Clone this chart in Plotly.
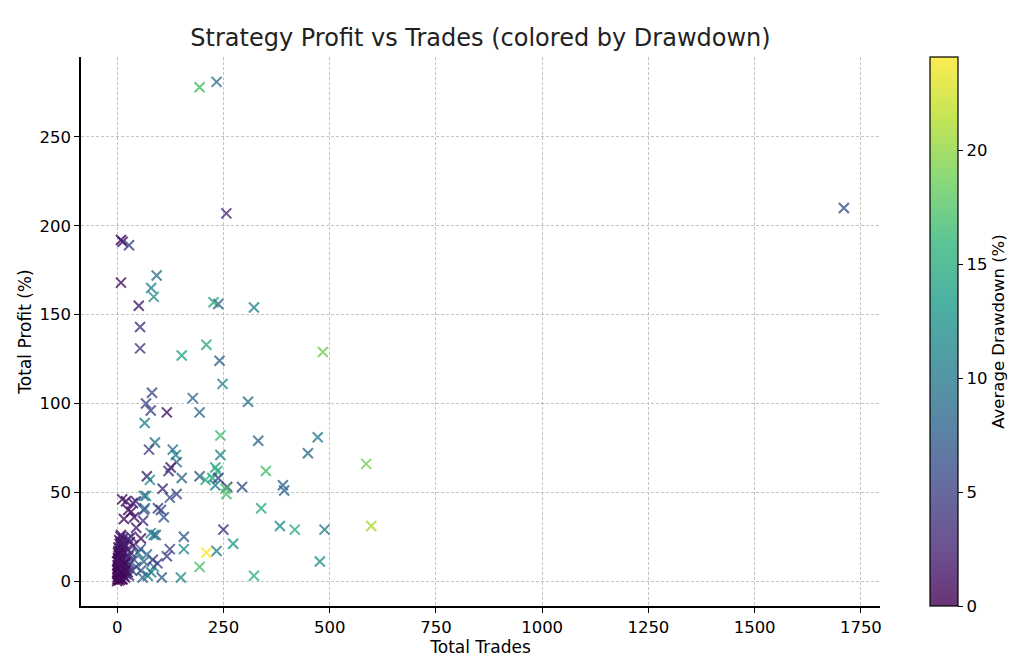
import plotly.graph_objects as go

# (trades, profit %, avg drawdown %)
total_trades = [
    194, 234, 257, 9, 13, 28, 9, 93, 80, 86, 51, 227, 238, 322, 54, 54, 210, 152,
    484, 241, 248, 82, 68, 79, 117, 178, 194, 308, 65, 243, 89, 332, 472, 75, 131,
    138, 243, 449, 140, 126, 121, 231, 236, 350, 586, 70, 77, 152, 194, 208, 224,
    231, 238, 259, 294, 255, 257, 107, 140, 124, 390, 393, 339, 383, 418, 488, 598,
    250, 273, 210, 234, 194, 322, 477, 1710, 157, 157, 124, 117, 150, 105, 86, 68,
    65, 96, 110, 12, 21, 37, 44, 63, 26, 33, 40, 16, 63, 103, 61, 9, 79, 91, 56, 33,
    86, 63, 84, 49, 40, 72, 56, 21, 30, 38, 45, 60, 55, 70, 80, 95, 45,
    0, 1, 2, 3, 4, 5, 6, 7, 8, 9, 10, 11, 12, 13, 14, 15, 16, 17, 18, 19, 20, 22,
    24, 25, 3, 6, 8, 2, 4, 1, 11, 14, 19, 21, 23, 5, 9, 12, 15, 0, 0, 27, 28, 30,
    32, 35, 26,
    1, 3, 5, 7, 9, 11, 13, 15, 17, 2, 4, 6, 8, 10, 12, 14, 16, 18, 20, 1, 3, 5, 7,
    9, 11, 13, 2, 6, 10, 14,
]
total_profit = [
    278, 281, 207, 192, 191, 189, 168, 172, 165, 160, 155, 157, 156, 154, 143, 131,
    133, 127, 129, 124, 111, 106, 100, 96, 95, 103, 95, 101, 89, 82, 78, 79, 81, 74,
    74, 71, 71, 72, 67, 64, 62, 64, 62, 62, 66, 59, 57, 58, 59, 57, 58, 54, 58, 53,
    53, 52, 49, 52, 49, 47, 54, 51, 41, 31, 29, 29, 31, 29, 21, 16, 17, 8, 3, 11,
    210, 25, 18, 18, 14, 2, 2, 26, 48, 41, 41, 36, 46, 45, 44, 45, 48, 40, 39, 36,
    35, 40, 40, 34, 26, 27, 26, 24, 25, 8, 11, 12, 16, 12, 3, 6, 7, 22, 20, 8, 2,
    18, 15, 5, 10, 30,
    0, 2, 5, 8, 12, 15, 3, 1, 10, 6, 18, 14, 22, 4, 9, 16, 12, 20, 7, 2, 14, 11,
    18, 5, 17, 21, 25, 13, 3, 9, 1, 24, 10, 4, 8, 0.5, 13, 17, 6, 4, 11, 14, 3, 10,
    16, 6, 24,
    1, 3, 6, 2, 4, 7, 9, 3, 5, 11, 13, 15, 17, 12, 19, 8, 21, 10, 6, 7, 19, 23, 14,
    22, 9, 1, 16, 11, 5, 20,
]
avg_drawdown = [
    17, 9, 3, 1, 1.5, 5, 1, 9, 11, 12, 2, 15, 8, 11, 4.5, 4.5, 15, 14, 19, 8, 11,
    6, 5, 5, 1, 8, 8, 9.5, 11, 17, 9, 8, 10, 4.5, 9, 11, 11, 9, 8, 2, 4, 14, 15,
    17, 19, 2, 12, 8, 7, 15, 14, 11, 5, 4, 6, 17, 17, 3, 5, 6, 8, 8, 15, 12, 15,
    10, 21, 3, 13, 24.1, 11, 17, 16, 12, 6, 7, 12, 5, 5, 12, 7, 11, 11, 9, 5, 7,
    1, 1, 2, 3, 9, 1, 1.5, 1, 1, 7, 5, 4, 1, 11, 8, 1, 3, 11, 8, 4, 11, 7, 11, 7,
    8, 1, 2, 6, 8, 6, 9, 10, 5, 2,
    0, 0.5, 0.2, 1, 0.8, 1.2, 0.3, 0.5, 1, 0.7, 1.5, 1, 1.8, 0.4, 1.1, 2, 1.4,
    1.6, 1, 0.6, 2.2, 1.5, 2.5, 1, 0.9, 1.3, 1.7, 0.3, 0.2, 0.1, 0.4, 2, 1.8, 2.5,
    3, 0.1, 1, 0.9, 1.2, 0.1, 0.3, 3, 4, 5, 3.5, 5, 3,
    0.3, 0.6, 0.9, 1.2, 0.5, 1.4, 0.8, 1.1, 2, 0.4, 0.7, 1, 1.3, 0.6, 1.6, 2.4,
    1.9, 0.2, 0.8, 0.1, 0.5, 1, 1.5, 2, 0.9, 0.3, 0.7, 1.1, 0.4, 1.8,
]

x_ticks = [0, 250, 500, 750, 1000, 1250, 1500, 1750]
y_ticks = [0, 50, 100, 150, 200, 250]
cbar_ticks = [0, 5, 10, 15, 20]

viridis = ["#440154", "#482878", "#3e4989", "#31688e", "#26828e",
           "#1f9e89", "#35b779", "#6ece58", "#b5de2b", "#fde725"]


def faded(hex_color, alpha=0.8):
    r, g, b = (int(hex_color[i:i + 2], 16) for i in (1, 3, 5))
    mix = [round(c * alpha + 255 * (1 - alpha)) for c in (r, g, b)]
    return "rgb({},{},{})".format(*mix)


faded_scale = [[i / (len(viridis) - 1), faded(c)] for i, c in enumerate(viridis)]
dd_max = max(avg_drawdown)
font = "DejaVu Sans, sans-serif"

fig = go.Figure()
fig.add_trace(
    go.Scatter(
        x=total_trades,
        y=total_profit,
        mode="markers",
        marker=dict(
            symbol="x-thin",
            size=10,
            color=avg_drawdown,
            colorscale="Viridis",
            cmin=0,
            cmax=dd_max,
            opacity=0.8,
            line=dict(width=2, color=avg_drawdown, colorscale="Viridis", cmin=0, cmax=dd_max),
            showscale=False,
        ),
        showlegend=False,
        hoverinfo="skip",
    )
)
# colorbar only, drawn with the alpha-faded viridis like the reference
fig.add_trace(
    go.Scatter(
        x=[None],
        y=[None],
        mode="markers",
        marker=dict(
            color=[0],
            colorscale=faded_scale,
            cmin=0,
            cmax=dd_max,
            showscale=True,
            colorbar=dict(
                x=(930 - 81) / 799,
                xanchor="left",
                xpad=0,
                ypad=0,
                y=0.5,
                yanchor="middle",
                len=1,
                lenmode="fraction",
                thickness=28,
                outlinewidth=1.2,
                outlinecolor="black",
                tickvals=cbar_ticks,
                ticks="outside",
                ticklen=5,
                tickcolor="black",
                tickfont=dict(family=font, size=16.5, color="black"),
                title=dict(text="Average Drawdown (%)", side="right",
                           font=dict(family=font, size=16.5, color="black")),
            ),
        ),
        showlegend=False,
        hoverinfo="skip",
    )
)

fig.update_layout(
    width=1024,
    height=658,
    paper_bgcolor="white",
    plot_bgcolor="white",
    margin=dict(l=81, r=144, t=57, b=52, autoexpand=False),
    title=dict(
        text="Strategy Profit vs Trades (colored by Drawdown)",
        x=(81 + 799 / 2) / 1024,
        xanchor="center",
        y=1 - 38 / 658,
        yanchor="middle",
        font=dict(family=font, size=24, color="#222222"),
    ),
    font=dict(family=font, size=16.5, color="black"),
)
axis_style = dict(
    showgrid=True,
    gridcolor="rgba(176,176,176,0.75)",
    griddash="3px,2px",
    gridwidth=1,
    zeroline=False,
    showline=True,
    linecolor="black",
    linewidth=1.5,
    ticks="outside",
    ticklen=5,
    tickcolor="black",
    automargin=False,
    tickfont=dict(family=font, size=16.5, color="black"),
)
fig.update_xaxes(
    range=[-85, 1795],
    tickvals=x_ticks,
    title=dict(text="Total Trades", font=dict(family=font, size=17), standoff=4),
    **axis_style,
)
fig.update_yaxes(
    range=[-14, 295],
    tickvals=y_ticks,
    title=dict(text="Total Profit (%)", font=dict(family=font, size=17), standoff=4),
    **axis_style,
)

# page body has an 8px default margin; drop it so the figure fills the window
fig.write_html(
    "out.html",
    config={"displayModeBar": False},
    post_script="document.body.style.margin = '0';",
)
